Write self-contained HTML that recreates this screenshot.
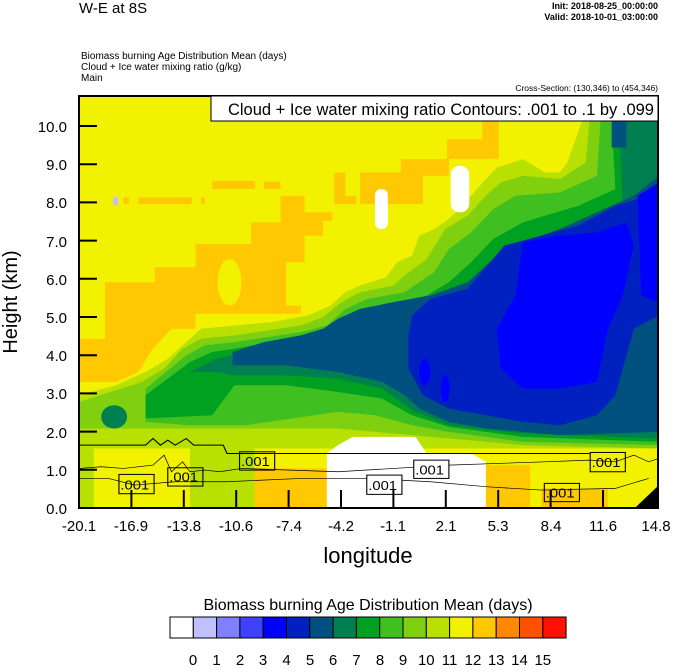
<!DOCTYPE html>
<html><head><style>
body{margin:0;background:#fff;}
svg text{font-family:"Liberation Sans",sans-serif;}
</style></head><body>
<svg width="674" height="667" viewBox="0 0 674 667" xmlns="http://www.w3.org/2000/svg">
<rect width="674" height="667" fill="#fff"/>
<text x="79" y="13" font-size="15">W-E at 8S</text>
<text x="658" y="9" font-size="9" text-anchor="end" font-weight="bold">Init: 2018-08-25_00:00:00</text>
<text x="658" y="20" font-size="9" text-anchor="end" font-weight="bold">Valid: 2018-10-01_03:00:00</text>
<text x="81" y="59" font-size="10">Biomass burning Age Distribution Mean   (days)</text>
<text x="81" y="70" font-size="10">Cloud + Ice water mixing ratio   (g/kg)</text>
<text x="81" y="81" font-size="10">Main</text>
<text x="658" y="91" font-size="8.5" text-anchor="end">Cross-Section: (130,346) to (454,346)</text>

<svg x="79" y="96" width="580" height="413" viewBox="0 0 1568 1242" preserveAspectRatio="none">
<rect width="1568" height="1242" fill="#f2f200"/>
<g fill="#ffc800">
<polygon points="70,560 205,560 205,515 315,515 315,445 465,445 465,380 545,380 545,300 610,300 610,350 685,350 685,375 660,375 660,420 610,420 610,500 560,500 560,630 600,630 600,655 315,655 315,700 250,700 200,760 160,830 100,860 0,860 0,730 70,730"/>
<rect x="360" y="255" width="115" height="25"/><rect x="500" y="258" width="45" height="22"/>
<rect x="160" y="305" width="145" height="20"/><rect x="120" y="305" width="15" height="20"/><rect x="330" y="305" width="10" height="20"/>
<polygon points="690,230 720,230 720,300 750,300 750,325 690,325"/>
<polygon points="760,230 870,230 870,190 995,190 995,130 1090,130 1090,75 1135,75 1135,190 1000,190 1000,240 930,240 930,325 760,325"/>
</g>
<ellipse cx="407" cy="560" rx="32" ry="70" fill="#f2f200"/>
<rect x="92" y="303" width="14" height="24" fill="#c0c0ff"/>

<!-- light green -->
<polygon fill="#b8e000" points="0,900 100,870 180,830 240,790 290,740 330,700 420,690 520,680 620,660 680,630 720,590 760,570 830,545 860,500 900,480 920,420 960,400 1000,370 1030,340 1060,300 1100,250 1130,215 1200,190 1260,230 1300,230 1320,200 1360,75 1568,75 1568,1060 0,1060"/>
<!-- 80d010 -->
<polygon fill="#80d010" points="0,920 170,860 230,820 280,760 330,730 420,720 600,690 660,665 710,620 760,590 850,570 880,540 940,490 990,400 1050,360 1100,300 1140,260 1200,240 1300,250 1370,200 1380,75 1568,75 1568,1060 1200,1050 900,1020 700,1000 450,1000 0,1000"/>
<!-- 40c020 -->
<polygon fill="#40c020" points="180,880 290,780 340,750 420,740 600,710 670,690 720,640 780,610 880,590 960,530 1000,460 1060,410 1120,340 1180,300 1300,290 1400,240 1410,75 1568,75 1568,1050 1200,1040 1000,1010 900,990 800,960 700,950 450,990 300,990 180,980"/>
<!-- 00a020 -->
<polygon fill="#00a020" points="180,900 300,800 360,770 420,760 620,720 690,700 740,660 820,630 940,600 1000,560 1060,500 1120,430 1200,380 1350,330 1450,280 1440,75 1568,75 1568,1040 1200,1025 1000,995 900,960 820,910 700,890 560,870 420,870 360,960 180,970"/>
<!-- 008050 -->
<polygon fill="#008050" points="300,830 370,790 415,780 500,755 600,735 660,715 700,690 760,660 850,640 950,620 1050,580 1120,510 1200,460 1300,420 1400,370 1470,330 1460,75 1568,75 1568,1030 1200,1015 1000,990 900,945 820,880 700,850 560,840 420,840 370,830"/>
<rect x="1440" y="75" width="40" height="80" fill="#005080"/>
<!-- teal -->
<polygon fill="#005080" points="415,770 500,740 600,720 660,700 700,670 760,640 850,620 950,600 1050,560 1120,490 1200,440 1300,400 1400,350 1500,300 1568,240 1568,1010 1300,1020 1100,1000 1000,980 920,940 880,900 820,860 700,830 560,810 415,810"/>
<polygon points="900,660 950,610 1050,580 1150,450 1250,420 1350,390 1450,330 1568,290 1568,660 1500,700 1450,900 1400,960 1300,990 1200,980 1100,960 1000,940 930,900 890,820 890,720" fill="#0020c0"/>
<polygon points="1200,440 1300,420 1400,410 1480,380 1500,450 1470,600 1430,700 1400,860 1300,880 1200,880 1140,820 1130,700 1180,600" fill="#0000ff"/>
<polygon points="1510,300 1568,260 1568,620 1520,600" fill="#0000ff"/>
<ellipse cx="935" cy="830" rx="15" ry="40" fill="#0000ff"/>
<ellipse cx="990" cy="880" rx="12" ry="40" fill="#0000ff"/>
<ellipse cx="95" cy="965" rx="35" ry="35" fill="#008050"/>
<rect x="0" y="1060" width="1568" height="182" fill="#f2f200"/>
<rect x="0" y="1060" width="40" height="182" fill="#b8e000"/>
<rect x="300" y="1060" width="175" height="182" fill="#b8e000"/>
<rect x="475" y="1120" width="195" height="122" fill="#ffc800"/>
<polygon points="740,1025 910,1025 940,1075 1060,1075 1100,1100 1100,1242 670,1242 670,1075 700,1050" fill="#fff"/>
<rect x="1100" y="1110" width="120" height="132" fill="#ffc800"/>
<rect x="1250" y="1180" width="180" height="62" fill="#ffc800"/>
<polygon points="1500,1242 1568,1170 1568,1242" fill="#000"/>
<rect x="1005" y="210" width="50" height="140" rx="25" fill="#fff"/>
<rect x="800" y="280" width="35" height="120" rx="17" fill="#fff"/>
<g fill="none" stroke="#000" stroke-width="3">
<polyline points="0,1050 180,1050 200,1030 220,1050 240,1035 260,1050 290,1030 310,1050 390,1050 400,1075 1380,1075"/>
<polyline points="0,1120 60,1115 120,1120 200,1110 230,1080 250,1130 280,1100 300,1130 340,1125 380,1130 440,1120 700,1130 1000,1110 1260,1100 1380,1095 1450,1100 1500,1080 1540,1100 1568,1090" stroke-width="2"/>
<polyline points="0,1150 80,1150 150,1170 260,1160 400,1160 600,1150 780,1150 950,1160 1100,1175 1250,1185 1450,1180 1540,1150" stroke-width="2"/>
</g>
<g font-size="40" font-family="Liberation Sans,sans-serif">
<rect x="108" y="1138" width="95" height="58" fill="none" stroke="#000" stroke-width="3"/><text x="112" y="1183">.001</text>
<rect x="240" y="1118" width="95" height="55" fill="none" stroke="#000" stroke-width="3"/><text x="244" y="1160">.001</text>
<rect x="434" y="1070" width="95" height="55" fill="none" stroke="#000" stroke-width="3"/><text x="438" y="1112">.001</text>
<rect x="778" y="1140" width="95" height="58" fill="#fff" stroke="#000" stroke-width="3"/><text x="782" y="1185">.001</text>
<rect x="905" y="1095" width="95" height="55" fill="#fff" stroke="#000" stroke-width="3"/><text x="909" y="1138">.001</text>
<rect x="1382" y="1072" width="95" height="58" fill="none" stroke="#000" stroke-width="3"/><text x="1386" y="1116">.001</text>
<rect x="1258" y="1165" width="95" height="55" fill="none" stroke="#000" stroke-width="3"/><text x="1262" y="1208">.001</text>
</g>
</svg>
<!-- axes -->
<rect x="79" y="96" width="579" height="412" fill="none" stroke="#000" stroke-width="2"/>
<g stroke="#000" stroke-width="2">
<line x1="79" y1="126" x2="97" y2="126"/><line x1="79" y1="164.2" x2="97" y2="164.2"/><line x1="79" y1="202.4" x2="97" y2="202.4"/><line x1="79" y1="240.6" x2="97" y2="240.6"/><line x1="79" y1="278.8" x2="97" y2="278.8"/><line x1="79" y1="317" x2="97" y2="317"/><line x1="79" y1="355.2" x2="97" y2="355.2"/><line x1="79" y1="393.4" x2="97" y2="393.4"/><line x1="79" y1="431.6" x2="97" y2="431.6"/><line x1="79" y1="469.8" x2="97" y2="469.8"/>
<line x1="131.4" y1="508" x2="131.4" y2="490"/><line x1="183.8" y1="508" x2="183.8" y2="490"/><line x1="236.2" y1="508" x2="236.2" y2="490"/><line x1="288.6" y1="508" x2="288.6" y2="490"/><line x1="341" y1="508" x2="341" y2="490"/><line x1="393.4" y1="508" x2="393.4" y2="490"/><line x1="445.8" y1="508" x2="445.8" y2="490"/><line x1="498.2" y1="508" x2="498.2" y2="490"/><line x1="550.6" y1="508" x2="550.6" y2="490"/><line x1="603" y1="508" x2="603" y2="490"/>
</g>
<rect x="211" y="96" width="447" height="25" fill="#fff" stroke="#000" stroke-width="1"/>
<text x="654" y="115" font-size="16.5" text-anchor="end">Cloud + Ice water mixing ratio Contours: .001 to .1 by .099</text>
<g font-size="15" text-anchor="end">
<text x="67" y="132">10.0</text><text x="67" y="170">9.0</text><text x="67" y="208">8.0</text><text x="67" y="247">7.0</text><text x="67" y="285">6.0</text><text x="67" y="323">5.0</text><text x="67" y="361">4.0</text><text x="67" y="399">3.0</text><text x="67" y="438">2.0</text><text x="67" y="476">1.0</text><text x="67" y="514">0.0</text>
</g>
<g font-size="15" text-anchor="middle">
<text x="79" y="531">-20.1</text><text x="131" y="531">-16.9</text><text x="184" y="531">-13.8</text><text x="236" y="531">-10.6</text><text x="289" y="531">-7.4</text><text x="341" y="531">-4.2</text><text x="393" y="531">-1.1</text><text x="446" y="531">2.1</text><text x="498" y="531">5.3</text><text x="551" y="531">8.4</text><text x="603" y="531">11.6</text><text x="656" y="531">14.8</text>
</g>
<text x="368" y="563" font-size="22" text-anchor="middle">longitude</text>
<text transform="translate(17,302) rotate(-90)" font-size="20" text-anchor="middle">Height (km)</text>
<text x="368" y="610" font-size="16" text-anchor="middle">Biomass burning Age Distribution Mean  (days)</text>
<g stroke="#000" stroke-width="1">
<rect x="170" y="617" width="23.3" height="21" fill="#ffffff"/>
<rect x="193.3" y="617" width="23.3" height="21" fill="#c0c0ff"/>
<rect x="216.6" y="617" width="23.3" height="21" fill="#8080ff"/>
<rect x="239.9" y="617" width="23.3" height="21" fill="#4040ff"/>
<rect x="263.2" y="617" width="23.3" height="21" fill="#0000ff"/>
<rect x="286.5" y="617" width="23.3" height="21" fill="#0020c0"/>
<rect x="309.8" y="617" width="23.3" height="21" fill="#005080"/>
<rect x="333.1" y="617" width="23.3" height="21" fill="#008050"/>
<rect x="356.4" y="617" width="23.3" height="21" fill="#00a020"/>
<rect x="379.7" y="617" width="23.3" height="21" fill="#40c020"/>
<rect x="403" y="617" width="23.3" height="21" fill="#80d010"/>
<rect x="426.3" y="617" width="23.3" height="21" fill="#b8e000"/>
<rect x="449.6" y="617" width="23.3" height="21" fill="#f2f200"/>
<rect x="472.9" y="617" width="23.3" height="21" fill="#ffc800"/>
<rect x="496.2" y="617" width="23.3" height="21" fill="#ff8800"/>
<rect x="519.5" y="617" width="23.3" height="21" fill="#ff5000"/>
<rect x="542.8" y="617" width="23.3" height="21" fill="#ff1000"/>
</g>
<g font-size="15" text-anchor="middle">
<text x="193" y="665">0</text><text x="216.6" y="665">1</text><text x="240" y="665">2</text><text x="263" y="665">3</text><text x="286.5" y="665">4</text><text x="310" y="665">5</text><text x="333" y="665">6</text><text x="356.4" y="665">7</text><text x="380" y="665">8</text><text x="403" y="665">9</text><text x="426.3" y="665">10</text><text x="449.6" y="665">11</text><text x="473" y="665">12</text><text x="496.2" y="665">13</text><text x="519.5" y="665">14</text><text x="542.8" y="665">15</text>
</g>
</svg>
</body></html>
